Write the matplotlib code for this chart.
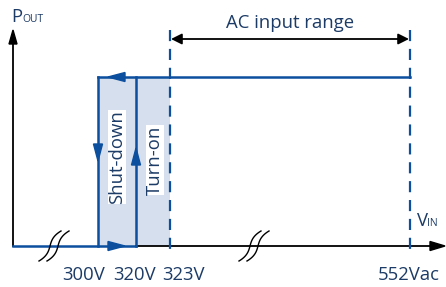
import matplotlib
matplotlib.use("Agg")
import matplotlib.pyplot as plt
import numpy as np
from matplotlib.patches import Rectangle, Polygon

# ---- data ----
voltages = [300, 320, 323, 552]
tick_labels = ["300V", "320V", "323V", "552Vac"]
region_labels = ["Shut-down", "Turn-on"]
range_label = "AC input range"
p_out_level = 1.0

# broken-axis scale: voltage -> horizontal position
scale_v = [0, 300, 320, 323, 552]
scale_x = [13, 98, 136, 170, 410]
def vx(v):
    return float(np.interp(v, scale_v, scale_x))

def py(p):
    # power level -> vertical position (inverted)
    return 246 - p * (246 - 77)

BLUE = "#0b4f9e"
SHADE = "#d5dfed"
TXT = "#1c3b66"
FONT = "Open Sans"
FS = 13.3

fig = plt.figure(figsize=(4.46, 2.87), dpi=100)
ax = fig.add_axes([0, 0, 1, 1])
ax.set_xlim(0, 446)
ax.set_ylim(287, 0)
ax.axis("off")

x300, x320, x323, x552 = [vx(v) for v in voltages]
y0, y1 = py(0), py(p_out_level)

# shaded hysteresis region
ax.add_patch(Rectangle((x300, y1), x323 - x300, y0 - y1, facecolor=SHADE, edgecolor="none", zorder=1))

# axes arrows
ax.plot([13, 13], [y0, 40], color="black", lw=1.3, zorder=2)
ax.add_patch(Polygon([[13, 30], [9, 44], [17, 44]], closed=True, color="black", zorder=3))
ax.plot([x320, 432], [y0, y0], color="black", lw=1.3, zorder=2)
ax.add_patch(Polygon([[445, y0], [430, y0 - 4.5], [430, y0 + 4.5]], closed=True, color="black", zorder=3))

# blue operating path
ax.plot([13, x320], [y0, y0], color=BLUE, lw=1.8, zorder=4)
ax.plot([x320, x320], [y0, y1], color=BLUE, lw=1.8, zorder=4)
ax.plot([x300, x552], [y1, y1], color=BLUE, lw=1.8, zorder=4)
ax.plot([x300, x300], [y1, y0], color=BLUE, lw=1.8, zorder=4)

def tri(tip, base_dir, L=17, W=4.5):
    tx, ty = tip
    dx, dy = base_dir
    bx, by = tx + dx * L, ty + dy * L
    px, py_ = -dy * W, dx * W
    return Polygon([[tx, ty], [bx + px, by + py_], [bx - px, by - py_]], closed=True, color=BLUE, zorder=5)

ax.add_patch(tri((125, y0), (-1, 0)))
ax.add_patch(tri((108, y1), (1, 0)))
ax.add_patch(tri((x300, 161), (0, -1)))
ax.add_patch(tri((x320, 148), (0, 1)))

# dashed range markers
for xv in (x323, x552):
    ax.plot([xv, xv], [30, 252], color=BLUE, lw=1.6, ls=(0, (5, 3.5)), zorder=3)

# double arrow for range
ax.annotate("", xy=(x323 + 1, 39), xytext=(x552 - 1, 39),
            arrowprops=dict(arrowstyle="<|-|>", color="black", lw=1.3,
                            mutation_scale=16, shrinkA=0, shrinkB=0))
ax.text((x323 + x552) / 2, 23, range_label, ha="center", va="center",
        fontsize=FS, color=TXT, family=FONT)

# region labels
ax.text(117, 157, region_labels[0], rotation=90, ha="center", va="center",
        fontsize=FS, color=TXT, family=FONT,
        bbox=dict(facecolor="white", edgecolor="none", pad=0.3), zorder=6)
ax.text(155, 160, region_labels[1], rotation=90, ha="center", va="center",
        fontsize=FS, color=TXT, family=FONT,
        bbox=dict(facecolor="white", edgecolor="none", pad=0.3), zorder=6)

# tick labels
label_x = [84, 134, 183, 409]
for lx, t in zip(label_x, tick_labels):
    ax.text(lx, 275, t, ha="center", va="center", fontsize=FS, color=TXT, family=FONT)

# axis titles
ax.text(11, 17, "P", ha="left", va="center", fontsize=FS, color=TXT, family=FONT)
ax.text(22.5, 20, "OUT", ha="left", va="center", fontsize=7.5, color=TXT, family=FONT)
ax.text(417, 221, "V", ha="left", va="center", fontsize=FS, color=TXT, family=FONT)
ax.text(427.5, 224, "IN", ha="left", va="center", fontsize=7.5, color=TXT, family=FONT)

# axis break marks
def brk(xc):
    t = np.linspace(-1, 1, 80)
    for off in (-4, 4):
        xs = xc + off + 4 * t + 7 * t ** 3
        ys = 246 - 15 * t
        ax.plot(xs, ys, color="black", lw=1.0, zorder=6)

brk(54)
brk(254)

fig.savefig("out.png", dpi=100)
